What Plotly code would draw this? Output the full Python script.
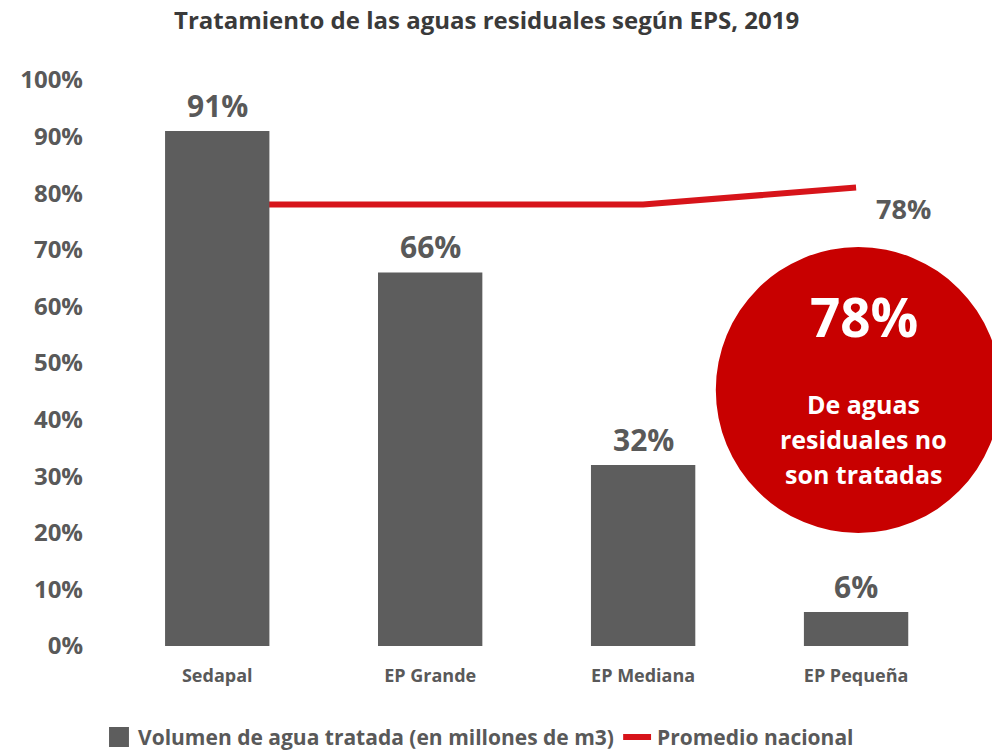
import plotly.graph_objects as go

categories = ["Sedapal", "EP Grande", "EP Mediana", "EP Pequeña"]
treated = [91, 66, 32, 6]
national_avg = [78, 78, 78, 81]
bar_labels = ["91%", "66%", "32%", "6%"]
avg_label = "78%"
y_ticks = list(range(0, 101, 10))
y_tick_text = [f"{v}%" for v in y_ticks]
title = "Tratamiento de las aguas residuales según EPS, 2019"
bar_name = "Volumen de agua tratada (en millones de m3)"
line_name = "Promedio nacional"
callout_big = "78%"
callout_lines = ["De aguas", "residuales no", "son tratadas"]

FONT = "Open Sans"
GRAY = "#5d5d5d"
TXT = "#595959"
RED = "#d7141a"
CIRCLE = "#c80000"

# the page body adds an 8px offset; figure coords = screen coords - 8
OFF = 8
W, H = 1000 - OFF, 751 - OFF
PL, PR, PT, PB = 115 - OFF, 937 - OFF, 80 - OFF, 646 - OFF  # plot area (figure px)

def px(xs):
    return (xs - OFF - PL) / float(PR - PL)
def py(ys):
    return (PB - (ys - OFF)) / float(PB - PT)

fig = go.Figure()
fig.add_trace(go.Scatter(
    x=categories, y=national_avg, mode="lines", name=line_name,
    line=dict(color=RED, width=6), zorder=0, showlegend=False,
))
fig.add_trace(go.Bar(
    x=categories, y=treated, name=bar_name, width=0.49,
    marker=dict(color=GRAY, line=dict(width=0)), zorder=1, showlegend=False,
))

annotations = []
# chart title
annotations.append(dict(
    x=px(485), y=py(20), xref="paper", yref="paper", text=f"<b>{title}</b>",
    showarrow=False, xanchor="center", yanchor="middle",
    font=dict(family=FONT, size=24, color="#3a3a3a"),
))
for c, v, lab in zip(categories, treated, bar_labels):
    annotations.append(dict(
        x=c, y=v, xref="x", yref="y", text=lab, showarrow=False,
        yanchor="bottom", yshift=3,
        font=dict(family=FONT, size=30, color=TXT, weight="bold"),
    ))
annotations.append(dict(
    x=categories[-1], y=national_avg[-1], xref="x", yref="y", text=avg_label,
    showarrow=False, xanchor="center", yanchor="middle", xshift=47, yshift=-21,
    font=dict(family=FONT, size=27, color=TXT, weight="bold"),
))

shapes = [dict(
    type="circle", xref="paper", yref="paper",
    x0=px(715), x1=px(1001), y0=py(533), y1=py(247),
    fillcolor=CIRCLE, line=dict(width=0), layer="above",
)]
annotations.append(dict(
    x=px(864), y=py(316), xref="paper", yref="paper", text=callout_big,
    showarrow=False, xanchor="center", yanchor="middle",
    font=dict(family=FONT, size=53, color="white", weight="bold"),
))
for i, t in enumerate(callout_lines):
    annotations.append(dict(
        x=px(863), y=py(404 + 35 * i), xref="paper", yref="paper", text=t,
        showarrow=False, xanchor="center", yanchor="middle",
        font=dict(family=FONT, size=25, color="white", weight="bold"),
    ))

LEG_Y = 737
shapes.append(dict(
    type="rect", xref="paper", yref="paper",
    x0=px(106), x1=px(126), y0=py(747), y1=py(727),
    fillcolor=GRAY, line=dict(width=0),
))
shapes.append(dict(
    type="line", xref="paper", yref="paper",
    x0=px(622), x1=px(650), y0=py(LEG_Y), y1=py(LEG_Y),
    line=dict(color=RED, width=6),
))
annotations.append(dict(
    x=px(133), y=py(LEG_Y), xref="paper", yref="paper", text=bar_name,
    showarrow=False, xanchor="left", yanchor="middle",
    font=dict(family=FONT, size=21, color=TXT, weight="bold"),
))
annotations.append(dict(
    x=px(654), y=py(LEG_Y), xref="paper", yref="paper", text=line_name,
    showarrow=False, xanchor="left", yanchor="middle",
    font=dict(family=FONT, size=21, color=TXT, weight="bold"),
))

fig.update_layout(
    width=W, height=H,
    margin=dict(l=PL, r=W - PR, t=PT, b=H - PB),
    paper_bgcolor="white", plot_bgcolor="white",
    showlegend=False,
    annotations=annotations,
    shapes=shapes,
)
fig.update_xaxes(
    range=[-0.466, 3.38], showline=True, linecolor="#333333", linewidth=3,
    showgrid=False, ticks="", ticklabelstandoff=11,
    tickfont=dict(family=FONT, size=18, color=TXT, weight="bold"),
)
fig.update_yaxes(
    range=[0, 100], tickmode="array", tickvals=y_ticks, ticktext=y_tick_text,
    showgrid=False, zeroline=False, showline=False, ticks="", ticklabelstandoff=34,
    tickfont=dict(family=FONT, size=24, color=TXT, weight="bold"),
)

fig.write_html("out.html")
